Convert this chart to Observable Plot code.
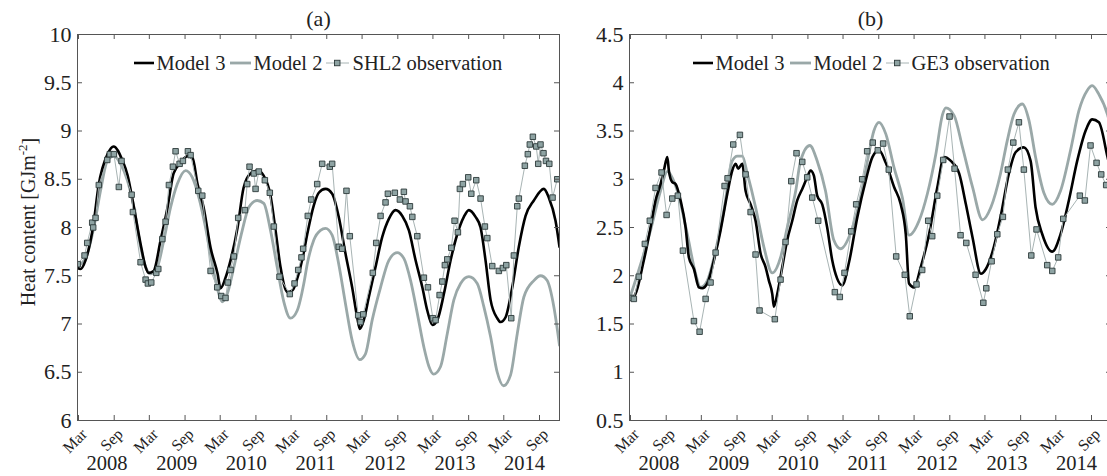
<!DOCTYPE html>
<html><head><meta charset="utf-8">
<script src="https://cdn.jsdelivr.net/npm/d3@7"></script>
<script src="https://cdn.jsdelivr.net/npm/@observablehq/plot@0.6"></script>
<style>
body{margin:0;background:#fff;overflow:hidden}
#wrap{position:relative;width:1107px;height:476px;overflow:hidden;background:#fff}
.panel{position:absolute;top:0}
</style></head><body>
<div id="wrap"><div id="pa" class="panel" style="left:0;width:562px"></div><div id="pb" class="panel" style="left:562px;width:550px"></div></div>
<script>
// ---------- data (time as decimal year, values in GJ m^-2) ----------
const years = [2008, 2009, 2010, 2011, 2012, 2013, 2014];
const yearLabelPos = [2008.566, 2009.548, 2010.529, 2011.510, 2012.491, 2013.472, 2014.453];
const monthNames = ["Mar", "Sep"];
const monthIndex = [2, 8];
const yTicksA = [6, 6.5, 7, 7.5, 8, 8.5, 9, 9.5, 10];
const yTicksB = [0.5, 1, 1.5, 2, 2.5, 3, 3.5, 4, 4.5];
const xStart = 2008.150, xEnd = 2014.948;
const titles = ["(a)", "(b)"];
const seriesNames = ["Model 3", "Model 2"];
const obsNames = ["SHL2 observation", "GE3 observation"];

const model3A = [[2008.150,7.58],[2008.192,7.57],[2008.263,7.66],[2008.376,8.04],[2008.446,8.43],[2008.573,8.76],[2008.658,8.84],[2008.785,8.69],[2008.855,8.54],[2008.926,8.28],[2009.038,7.83],[2009.109,7.59],[2009.151,7.53],[2009.222,7.55],[2009.321,7.87],[2009.419,8.21],[2009.504,8.56],[2009.603,8.67],[2009.701,8.74],[2009.772,8.72],[2009.842,8.45],[2009.927,8.21],[2010.026,7.79],[2010.125,7.52],[2010.167,7.37],[2010.237,7.48],[2010.308,7.66],[2010.407,8.00],[2010.491,8.41],[2010.590,8.56],[2010.689,8.59],[2010.773,8.54],[2010.872,8.33],[2010.943,7.97],[2011.013,7.59],[2011.112,7.33],[2011.183,7.35],[2011.253,7.48],[2011.338,7.73],[2011.390,7.93],[2011.483,8.23],[2011.553,8.36],[2011.648,8.40],[2011.742,8.35],[2011.835,8.11],[2011.930,7.73],[2012.024,7.38],[2012.095,7.07],[2012.132,6.95],[2012.188,7.04],[2012.259,7.28],[2012.353,7.59],[2012.447,7.90],[2012.541,8.09],[2012.635,8.18],[2012.730,8.12],[2012.823,7.97],[2012.917,7.66],[2013.012,7.38],[2013.082,7.14],[2013.153,6.99],[2013.223,7.04],[2013.316,7.31],[2013.411,7.66],[2013.505,7.93],[2013.598,8.11],[2013.669,8.18],[2013.763,8.11],[2013.834,8.00],[2013.904,7.66],[2013.975,7.25],[2014.069,7.06],[2014.116,7.02],[2014.187,7.07],[2014.281,7.38],[2014.374,7.80],[2014.469,8.12],[2014.586,8.28],[2014.727,8.40],[2014.797,8.31],[2014.892,8.07],[2014.948,7.80]];

const model2A = [[2008.150,7.60],[2008.263,7.68],[2008.380,8.00],[2008.474,8.38],[2008.569,8.69],[2008.662,8.74],[2008.756,8.66],[2008.851,8.49],[2008.944,8.21],[2009.038,7.80],[2009.109,7.59],[2009.180,7.52],[2009.274,7.59],[2009.367,7.87],[2009.462,8.21],[2009.556,8.45],[2009.673,8.59],[2009.768,8.52],[2009.861,8.31],[2009.955,8.00],[2010.050,7.62],[2010.143,7.31],[2010.191,7.23],[2010.261,7.31],[2010.355,7.59],[2010.473,7.97],[2010.566,8.21],[2010.684,8.28],[2010.777,8.25],[2010.872,7.97],[2010.966,7.59],[2011.060,7.23],[2011.154,7.06],[2011.249,7.14],[2011.342,7.42],[2011.390,7.62],[2011.483,7.87],[2011.577,7.97],[2011.648,7.99],[2011.742,7.92],[2011.835,7.62],[2011.930,7.21],[2012.024,6.83],[2012.132,6.63],[2012.212,6.69],[2012.306,7.04],[2012.424,7.38],[2012.541,7.66],[2012.659,7.74],[2012.752,7.68],[2012.847,7.45],[2012.941,7.11],[2013.034,6.76],[2013.105,6.56],[2013.171,6.48],[2013.270,6.56],[2013.364,6.90],[2013.457,7.25],[2013.552,7.42],[2013.669,7.49],[2013.787,7.42],[2013.880,7.18],[2013.975,6.87],[2014.069,6.50],[2014.158,6.36],[2014.257,6.47],[2014.352,6.90],[2014.445,7.28],[2014.586,7.45],[2014.680,7.50],[2014.774,7.45],[2014.868,7.18],[2014.948,6.78]];

const obsA = [[2008.154,7.62],[2008.249,7.71],[2008.287,7.84],[2008.357,8.05],[2008.371,8.00],[2008.404,8.10],[2008.450,8.44],[2008.569,8.70],[2008.605,8.76],[2008.662,8.76],[2008.732,8.42],[2008.770,8.69],[2008.912,8.34],[2008.930,8.16],[2009.038,7.64],[2009.109,7.46],[2009.141,7.42],[2009.189,7.43],[2009.260,7.53],[2009.288,7.57],[2009.345,7.88],[2009.391,8.06],[2009.438,8.44],[2009.494,8.63],[2009.532,8.79],[2009.589,8.66],[2009.635,8.69],[2009.706,8.79],[2009.744,8.75],[2009.852,8.38],[2009.909,8.33],[2010.026,7.55],[2010.120,7.38],[2010.177,7.29],[2010.237,7.27],[2010.270,7.43],[2010.308,7.56],[2010.354,7.70],[2010.416,8.10],[2010.510,8.18],[2010.543,8.45],[2010.576,8.63],[2010.637,8.56],[2010.661,8.40],[2010.707,8.58],[2010.792,8.49],[2010.862,8.36],[2010.919,8.01],[2010.999,7.49],[2011.144,7.31],[2011.211,7.42],[2011.263,7.56],[2011.309,7.69],[2011.333,7.78],[2011.398,8.12],[2011.446,8.29],[2011.531,8.45],[2011.601,8.66],[2011.708,8.63],[2011.742,8.66],[2011.835,7.80],[2011.883,7.78],[2011.944,8.38],[2011.991,7.91],[2012.109,7.09],[2012.141,7.02],[2012.180,7.10],[2012.315,7.53],[2012.363,7.84],[2012.424,8.12],[2012.494,8.26],[2012.527,8.35],[2012.625,8.36],[2012.696,8.29],[2012.752,8.37],[2012.776,8.27],[2012.837,8.22],[2012.871,8.11],[2012.941,7.91],[2013.034,7.48],[2013.091,7.38],[2013.161,7.06],[2013.199,7.04],[2013.256,7.30],[2013.294,7.44],[2013.330,7.61],[2013.364,7.67],[2013.421,7.79],[2013.467,8.07],[2013.514,7.95],[2013.542,8.40],[2013.584,8.45],[2013.660,8.52],[2013.703,8.35],[2013.773,8.49],[2013.834,8.30],[2013.895,8.01],[2013.929,7.89],[2013.999,7.60],[2014.092,7.55],[2014.149,7.58],[2014.197,7.61],[2014.267,7.06],[2014.304,7.71],[2014.352,8.22],[2014.374,8.30],[2014.459,8.64],[2014.501,8.76],[2014.529,8.86],[2014.572,8.94],[2014.620,8.84],[2014.648,8.66],[2014.680,8.86],[2014.722,8.77],[2014.757,8.69],[2014.804,8.66],[2014.850,8.31],[2014.916,8.50]];

const model3B = [[2008.154,1.77],[2008.206,1.78],[2008.352,2.16],[2008.446,2.50],[2008.517,2.78],[2008.587,2.95],[2008.634,3.09],[2008.682,3.23],[2008.704,3.09],[2008.752,2.97],[2008.799,2.95],[2008.869,2.78],[2008.940,2.50],[2008.986,2.19],[2009.057,2.07],[2009.127,1.88],[2009.175,1.87],[2009.246,1.92],[2009.339,2.16],[2009.433,2.47],[2009.528,2.85],[2009.598,3.09],[2009.645,3.16],[2009.683,3.11],[2009.740,3.16],[2009.786,2.88],[2009.857,2.74],[2009.927,2.57],[2009.998,2.23],[2010.068,2.09],[2010.115,1.95],[2010.163,1.81],[2010.185,1.68],[2010.233,1.81],[2010.304,2.09],[2010.374,2.37],[2010.445,2.57],[2010.515,2.78],[2010.586,2.90],[2010.656,3.02],[2010.703,3.09],[2010.749,3.04],[2010.797,2.83],[2010.868,2.74],[2010.938,2.50],[2011.009,2.16],[2011.079,1.97],[2011.150,1.90],[2011.246,2.14],[2011.364,2.61],[2011.483,2.99],[2011.576,3.23],[2011.670,3.30],[2011.765,3.17],[2011.882,2.92],[2011.976,2.74],[2012.047,2.43],[2012.093,1.92],[2012.164,1.88],[2012.258,2.09],[2012.375,2.43],[2012.492,2.92],[2012.587,3.23],[2012.681,3.19],[2012.798,3.06],[2012.893,2.74],[2012.986,2.40],[2013.105,2.02],[2013.175,2.07],[2013.288,2.30],[2013.382,2.61],[2013.500,3.06],[2013.594,3.28],[2013.711,3.33],[2013.806,3.19],[2013.876,2.71],[2013.971,2.43],[2014.112,2.25],[2014.229,2.43],[2014.346,2.78],[2014.464,3.19],[2014.581,3.50],[2014.676,3.62],[2014.770,3.59],[2014.892,3.23],[2014.948,3.05]];

const model2B = [[2008.154,1.77],[2008.446,2.47],[2008.587,2.88],[2008.682,3.08],[2008.823,2.88],[2008.964,2.43],[2009.081,2.02],[2009.151,1.88],[2009.246,1.95],[2009.363,2.26],[2009.480,2.68],[2009.598,3.19],[2009.669,3.24],[2009.740,3.24],[2009.810,3.06],[2009.927,2.71],[2010.044,2.30],[2010.163,2.03],[2010.280,2.19],[2010.374,2.50],[2010.494,2.88],[2010.562,3.19],[2010.693,3.35],[2010.797,3.19],[2010.914,2.88],[2011.031,2.37],[2011.126,2.28],[2011.291,2.49],[2011.408,2.81],[2011.525,3.26],[2011.596,3.50],[2011.670,3.59],[2011.765,3.47],[2011.882,3.12],[2011.999,2.81],[2012.093,2.42],[2012.234,2.57],[2012.351,2.85],[2012.470,3.26],[2012.564,3.67],[2012.611,3.74],[2012.728,3.66],[2012.846,3.33],[2012.986,2.92],[2013.127,2.58],[2013.246,2.71],[2013.382,3.06],[2013.477,3.40],[2013.570,3.67],[2013.689,3.78],[2013.783,3.61],[2013.876,3.23],[2013.993,2.86],[2014.112,2.74],[2014.229,2.88],[2014.370,3.30],[2014.488,3.71],[2014.605,3.92],[2014.676,3.97],[2014.770,3.88],[2014.892,3.67],[2014.948,3.50]];

const obsB = [[2008.174,1.77],[2008.211,1.76],[2008.281,1.99],[2008.366,2.33],[2008.436,2.57],[2008.517,2.91],[2008.601,3.07],[2008.672,2.63],[2008.752,2.80],[2008.831,2.83],[2008.902,2.26],[2009.057,1.53],[2009.137,1.42],[2009.222,1.76],[2009.292,1.93],[2009.363,2.24],[2009.490,2.93],[2009.532,3.01],[2009.612,3.36],[2009.706,3.46],[2009.786,3.05],[2009.857,2.66],[2009.927,2.22],[2009.983,1.64],[2010.199,1.55],[2010.280,1.96],[2010.350,2.35],[2010.431,2.98],[2010.505,3.27],[2010.586,3.18],[2010.656,3.02],[2010.727,2.81],[2010.811,2.57],[2011.046,1.83],[2011.116,1.78],[2011.182,2.03],[2011.277,2.46],[2011.347,2.74],[2011.432,3.00],[2011.502,3.29],[2011.581,3.38],[2011.652,3.30],[2011.728,3.37],[2011.807,3.10],[2011.912,2.20],[2012.033,2.01],[2012.103,1.58],[2012.198,1.91],[2012.278,2.06],[2012.363,2.57],[2012.419,2.41],[2012.490,2.83],[2012.574,3.20],[2012.663,3.65],[2012.734,3.11],[2012.818,2.42],[2012.899,2.34],[2013.030,2.01],[2013.139,1.72],[2013.181,1.87],[2013.256,2.15],[2013.336,2.43],[2013.415,2.61],[2013.485,3.10],[2013.562,3.38],[2013.641,3.59],[2013.711,3.10],[2013.816,2.21],[2013.890,2.48],[2014.041,2.11],[2014.112,2.05],[2014.196,2.19],[2014.267,2.59],[2014.501,2.83],[2014.572,2.78],[2014.652,3.35],[2014.737,3.17],[2014.803,3.05],[2014.873,2.94]];

// ---------- helpers ----------
function decYear(y) {
  const yr = Math.floor(y);
  const s = Date.UTC(yr, 0, 1), e = Date.UTC(yr + 1, 0, 1);
  return new Date(s + (y - yr) * (e - s));
}
const FONT = "Liberation Serif, serif";
const C_M2 = "#9aa8a8", C_OBSLINE = "#a8b4b4", C_OBSFILL = "#8ea3a3", C_OBSSTROKE = "#2d3a3a", C_AX = "#555", C_TXT = "#222";

function panel(el, {model3, model2, obs, yDomain, yTicks, title, obsName, width, marginLeft, marginRight, ylabel, legendPos}) {
  const marginTop = 34, marginBottom = 56, height = 476;
  const W = width - marginLeft - marginRight, H = height - marginTop - marginBottom;
  const tickDates = years.flatMap(y => monthIndex.map(m => new Date(Date.UTC(y, m, 1))));
  const monthLabels = years.flatMap(y => monthNames.map((n, i) => ({date: new Date(Date.UTC(y, monthIndex[i], 1)), label: n})));
  const yearLabels = years.map((y, i) => ({date: decYear(yearLabelPos[i]), label: String(y)}));
  const X = d => decYear(d[0]), Y = d => d[1];
  const legendY = 63;
  const legendText = (s, dx) => Plot.text([s], {text: d => d, frameAnchor: "top-left", lineAnchor: "middle", textAnchor: "start", dx, dy: legendY - marginTop, fontSize: 20.5, fill: C_TXT});
  const chart = Plot.plot({
    width, height, marginLeft, marginRight, marginTop, marginBottom,
    style: {fontFamily: FONT, background: "transparent", color: C_TXT, overflow: "visible"},
    x: {type: "utc", domain: [decYear(xStart), decYear(xEnd)], axis: null},
    y: {domain: yDomain},
    marks: [
      Plot.line(model2, {x: X, y: Y, stroke: C_M2, strokeWidth: 2.8, curve: "monotone-x", clip: true}),
      Plot.line(model3, {x: X, y: Y, stroke: "#000", strokeWidth: 2.6, curve: "monotone-x", clip: true}),
      Plot.line(obs, {x: X, y: Y, stroke: C_OBSLINE, strokeWidth: 1, clip: true}),
      Plot.dot(obs, {x: X, y: Y, symbol: "square", r: 3.1, fill: C_OBSFILL, stroke: C_OBSSTROKE, strokeWidth: 0.9, clip: true}),
      Plot.frame({stroke: C_AX, strokeWidth: 1}),
      Plot.tickY(yTicks, {y: d => d, insetRight: W - 5, stroke: C_AX}),
      Plot.tickY(yTicks, {y: d => d, insetLeft: W - 5, stroke: C_AX}),
      Plot.tickX(tickDates, {x: d => d, insetTop: H - 5, stroke: C_AX}),
      Plot.tickX(tickDates, {x: d => d, insetBottom: H - 5, stroke: C_AX}),
      Plot.axisY(yTicks, {tickSize: 0, tickPadding: 6, fontSize: 22, tickFormat: d => String(d), label: null, fill: C_TXT}),
      Plot.text(monthLabels, {x: "date", text: "label", frameAnchor: "bottom", lineAnchor: "middle", textAnchor: "end", rotate: -45, dx: 6, dy: 11, fontSize: 16, fill: C_TXT}),
      Plot.text(yearLabels, {x: "date", text: "label", frameAnchor: "bottom", lineAnchor: "middle", dy: 42.5, fontSize: 20.5, fill: C_TXT}),
      Plot.text([title], {text: d => d, frameAnchor: "top", lineAnchor: "middle", dy: -16, fontSize: 22, fill: C_TXT}),
      legendText(seriesNames[0], legendPos[1]),
      legendText(seriesNames[1], legendPos[3]),
      legendText(obsName, legendPos[5])
    ]
  });
  // legend samples
  const svg = d3.select(chart);
  const g = svg.append("g");
  const L = legendPos.map(d => marginLeft + d);
  g.append("line").attr("x1", L[0]).attr("x2", L[0] + 20).attr("y1", legendY).attr("y2", legendY).attr("stroke", "#000").attr("stroke-width", 2.6);
  g.append("line").attr("x1", L[2]).attr("x2", L[2] + 21).attr("y1", legendY).attr("y2", legendY).attr("stroke", C_M2).attr("stroke-width", 2.8);
  g.append("line").attr("x1", L[4]).attr("x2", L[4] + 23).attr("y1", legendY).attr("y2", legendY).attr("stroke", C_OBSLINE).attr("stroke-width", 1);
  g.append("rect").attr("x", L[4] + 8.5).attr("y", legendY - 2.75).attr("width", 5.5).attr("height", 5.5).attr("fill", C_OBSFILL).attr("stroke", C_OBSSTROKE).attr("stroke-width", 0.9);
  if (ylabel) {
    const t = svg.append("text").attr("transform", `translate(35,222) rotate(-90)`)
      .attr("text-anchor", "middle").attr("font-size", 20).attr("fill", C_TXT);
    t.append("tspan").text("Heat content [GJm");
    t.append("tspan").attr("font-size", 13).attr("dy", "-0.65em").text("-2");
    t.append("tspan").attr("dy", "0.45em").text("]");
  }
  document.getElementById(el).append(chart);
}

panel("pa", {model3: model3A, model2: model2A, obs: obsA, yDomain: [6, 10], yTicks: yTicksA, title: titles[0], obsName: obsNames[0], width: 562, marginLeft: 77, marginRight: 3, ylabel: true, legendPos: [57, 79, 153, 176, 249, 275]});
panel("pb", {model3: model3B, model2: model2B, obs: obsB, yDomain: [0.5, 4.5], yTicks: yTicksB, title: titles[1], obsName: obsNames[1], width: 550, marginLeft: 67, marginRight: 1, ylabel: false, legendPos: [64, 86, 161, 184, 257, 282]});
</script></body></html>
